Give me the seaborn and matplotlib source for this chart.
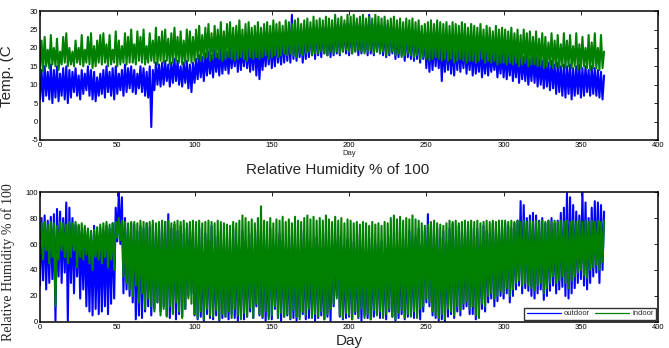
import numpy as np
import pandas as pd
import seaborn as sns
import matplotlib
import matplotlib.pyplot as plt

matplotlib.use('Agg')

# Daily low / high readings, one pair every 2 days (days 0, 2, ..., 364)
temp_out_lo = [
    6, 5.5, 7, 6, 5, 6.5, 5.5, 7, 6, 5,
    6.5, 8, 7, 6, 7.5, 8.5, 7, 6, 5.5, 7,
    7.5, 6.5, 8, 7, 6, 7.5, 8.5, 7, 8, 9,
    8, 7.5, 9, 8, 7, 6.5, -1.5, 8.5, 10, 9.5,
    10, 11, 9.5, 10.5, 11, 10, 9.5, 10.5, 9, 8,
    10.5, 11.5, 12, 11, 12.5, 13, 12, 13.5, 12.5, 13,
    14, 13, 14.5, 15, 13.5, 14, 15, 14.5, 13.5, 14,
    12.5, 11.5, 14, 15, 15.5, 14.5, 15, 16, 15.5, 16,
    16.5, 16, 17, 16.5, 17.5, 16, 17, 17.5, 18, 17,
    18, 17.5, 18.5, 18, 17.5, 18, 18.5, 18, 19, 18.5,
    18, 18.5, 19, 18, 18.5, 19, 18, 18.5, 18, 19,
    18.5, 18, 17.5, 18, 18.5, 17, 17.5, 18, 16.5, 17.5,
    17, 16.5, 17, 16, 17, 14.5, 13.5, 14, 15, 14.5,
    11, 13.5, 14, 13, 12.5, 14, 13.5, 14.5, 13, 14,
    12.5, 13, 13.5, 12, 13, 12.5, 13.5, 14, 12, 13,
    12, 11.5, 12.5, 11, 12, 10.5, 11.5, 11, 10, 11,
    10.5, 9.5, 10, 9, 9.5, 8.5, 9, 7.5, 8, 7,
    6.5, 7.5, 6, 7, 7.5, 6.5, 7, 8, 7, 7.5,
    7, 6.5, 6,
]
temp_out_hi = [
    14, 15, 13.5, 15.5, 14, 15, 13, 14.5, 15, 14,
    13.5, 14.5, 12.5, 14, 13, 15, 14, 13.5, 12, 13,
    14, 15, 13.5, 14.5, 15, 13, 14, 15.5, 14.5, 15,
    14, 13, 15, 14.5, 13.5, 15, 14, 16, 15.5, 16,
    16.5, 15.5, 16, 17, 16.5, 15, 16, 16.5, 15.5, 16,
    17, 18, 17.5, 18.5, 19, 18, 19.5, 18.5, 20, 19,
    19, 20, 19.5, 20.5, 21, 20, 21.5, 20.5, 21, 22,
    21, 20, 21.5, 22, 22.5, 21.5, 23, 22, 23.5, 24,
    24, 29, 24.5, 23.5, 25, 24, 24.5, 25.5, 24.5, 25.5,
    25, 25.5, 26, 25, 25.5, 26.5, 26, 25.5, 26.5, 26,
    26.5, 26, 27, 26.5, 25.5, 26.5, 29, 26.5, 26, 26.5,
    26, 25.5, 26.5, 26, 25.5, 25, 25.5, 25, 25.5, 24.5,
    25, 24.5, 24, 24.5, 23.5, 22.5, 22, 22.5, 21.5, 22,
    21, 22, 21.5, 21, 22, 21.5, 20.5, 21, 20, 21,
    20, 19.5, 20.5, 19, 20, 19.5, 18.5, 19, 18, 19,
    19, 18.5, 19.5, 18, 19, 18.5, 17.5, 18, 17, 18,
    17.5, 17, 16.5, 17, 16, 16.5, 15.5, 16, 15, 15.5,
    15, 15.5, 14.5, 15, 15.5, 14.5, 15, 14, 15, 14.5,
    14, 13.5, 12.5,
]
temp_in_lo = [
    14, 13.5, 15, 14.5, 15.5, 15, 14, 15.5, 16, 15,
    15.5, 15, 16, 15.5, 15, 16, 15.5, 14.5, 15, 16,
    15.5, 16, 15, 15.5, 16, 15, 15.5, 16, 15.5, 16,
    16, 15.5, 16.5, 16, 15.5, 16, 16.5, 16, 15.5, 16.5,
    16, 16.5, 15.5, 16, 16.5, 16, 15.5, 16, 16.5, 16,
    16.5, 17, 16.5, 17, 17.5, 16.5, 17, 17.5, 17, 16.5,
    17, 17.5, 17, 16.5, 17, 17.5, 17, 16.5, 17.5, 17,
    17.5, 17, 17.5, 18, 17, 17.5, 18, 17.5, 18, 18.5,
    18, 18.5, 18, 17.5, 18.5, 18, 18.5, 19, 18, 18.5,
    18.5, 19, 18.5, 18, 19, 18.5, 19, 18.5, 19, 19.5,
    19, 18.5, 19, 19.5, 19, 18.5, 19, 19.5, 18.5, 19,
    18.5, 19, 18, 18.5, 19, 18, 18.5, 17.5, 18, 18.5,
    18, 17.5, 18, 17, 17.5, 17, 16.5, 17, 17.5, 17,
    16.5, 17, 16.5, 17, 16, 16.5, 17, 16.5, 16, 16.5,
    16.5, 16, 16.5, 17, 16, 16.5, 16, 16.5, 15.5, 16,
    16, 15.5, 16, 15.5, 16, 15, 15.5, 16, 15, 15.5,
    15.5, 15, 15.5, 14.5, 15, 15.5, 14.5, 15, 14.5, 15,
    14.5, 15, 14.5, 15, 14, 14.5, 15, 14.5, 14, 14.5,
    14.5, 14, 14.5,
]
temp_in_hi = [
    22, 23, 19.5, 23.5, 20, 22.5, 19, 23, 24, 20,
    19, 22, 20, 23.5, 19.5, 23, 24, 20.5, 22, 23.5,
    24, 21, 23.5, 19.5, 24.5, 22, 20.5, 24, 23, 25,
    21, 24.5, 23, 25, 20.5, 24, 22, 25.5, 23, 24.5,
    25, 22.5, 24, 25.5, 23, 24.5, 22, 25, 24.5, 23,
    25, 26, 23.5, 25.5, 26.5, 24, 26, 25, 27, 24.5,
    26.5, 27, 25.5, 26, 27.5, 25, 26.5, 27, 25.5, 26,
    27, 25.5, 26.5, 27, 26, 27.5, 26.5, 27, 26, 27.5,
    27, 26.5, 27.5, 28, 26.5, 27.5, 28, 27, 28.5, 27.5,
    28, 27.5, 28.5, 28, 27.5, 29, 28, 28.5, 27.5, 29,
    28.5, 29, 28, 28.5, 29, 28, 28.5, 28, 29, 28.5,
    28, 28.5, 27.5, 28, 28.5, 27.5, 28, 27, 28, 27.5,
    28, 27, 27.5, 26, 26.5, 27, 27.5, 26.5, 27.5, 27,
    26.5, 27, 26, 27, 26.5, 26, 27, 26.5, 25.5, 26.5,
    26, 25.5, 26.5, 25, 26, 25.5, 24.5, 26, 25, 25.5,
    25, 24.5, 25.5, 24, 25, 23.5, 25, 24, 24.5, 23,
    24.5, 22.5, 24, 23, 21.5, 24, 22, 23.5, 21, 24,
    22, 23.5, 20.5, 24, 21, 23, 20, 23.5, 21.5, 24,
    20, 23.5, 19,
]

hum_out_lo = [
    28, 32, 25, 30, 33, 1, 35, 30, 38, 1,
    30, 22, 35, 18, 25, 12, 8, 5, 10, 6,
    8, 12, 6, 14, 18, 62, 60, 22, 25, 20,
    15, 2, 5, 3, 8, 12, 5, 10, 15, 8,
    12, 5, 3, 8, 2, 6, 4, 10, 20, 22,
    5, 2, 4, 1, 6, 3, 2, 5, 1, 3,
    4, 2, 6, 3, 1, 5, 2, 4, 8, 3,
    12, 5, 3, 1, 4, 2, 10, 3, 1, 4,
    5, 2, 3, 1, 4, 6, 2, 3, 5, 1,
    3, 5, 2, 4, 1, 12, 20, 4, 2, 3,
    4, 2, 6, 3, 1, 5, 3, 2, 4, 6,
    3, 5, 2, 8, 4, 1, 3, 6, 2, 4,
    5, 3, 6, 2, 8, 15, 12, 5, 3, 1,
    2, 0, 4, 6, 3, 8, 5, 10, 12, 6,
    6, 2, 4, 10, 8, 15, 18, 12, 16, 20,
    18, 22, 15, 20, 25, 28, 22, 26, 24, 20,
    18, 22, 25, 17, 20, 24, 28, 22, 25, 27,
    20, 18, 22, 26, 30, 33, 28, 25, 30, 35,
    38, 30, 40,
]
hum_out_hi = [
    80, 82, 78, 81, 83, 87, 85, 80, 92, 88,
    80, 75, 74, 70, 72, 68, 70, 74, 66, 72,
    70, 74, 72, 76, 88, 100, 96, 80, 74, 76,
    75, 70, 74, 72, 76, 73, 75, 70, 76, 74,
    77, 83, 72, 75, 70, 74, 68, 72, 75, 70,
    60, 72, 55, 68, 62, 74, 50, 66, 70, 58,
    65, 55, 72, 60, 48, 70, 62, 56, 68, 52,
    70, 58, 64, 50, 72, 60, 55, 68, 62, 58,
    52, 66, 60, 48, 70, 55, 62, 50, 58, 65,
    60, 45, 68, 55, 62, 50, 66, 58, 48, 64,
    55, 62, 50, 68, 58, 46, 64, 52, 60, 56,
    62, 50, 58, 66, 48, 60, 55, 64, 52, 70,
    58, 66, 72, 60, 70, 83, 75, 68, 72, 65,
    70, 60, 72, 76, 65, 74, 70, 68, 75, 72,
    66, 72, 60, 74, 70, 68, 76, 72, 70, 74,
    76, 74, 72, 76, 78, 93, 90, 80, 82, 84,
    82, 78, 80, 76, 78, 80, 76, 78, 84, 88,
    100, 96, 90, 85, 82, 100, 92, 80, 88, 93,
    92, 90, 85,
]
hum_in_lo = [
    52, 48, 55, 45, 50, 12, 48, 55, 50, 45,
    50, 55, 42, 50, 48, 52, 45, 40, 50, 48,
    45, 50, 42, 48, 40, 65, 63, 35, 30, 25,
    20, 28, 15, 22, 10, 18, 12, 8, 15, 5,
    10, 4, 12, 6, 15, 8, 3, 10, 18, 14,
    6, 3, 8, 2, 10, 5, 4, 9, 2, 6,
    4, 8, 3, 10, 5, 2, 7, 4, 11, 3,
    14, 6, 4, 8, 2, 5, 12, 3, 7, 4,
    6, 3, 9, 4, 2, 8, 5, 10, 3, 6,
    4, 8, 2, 6, 10, 14, 18, 5, 3, 7,
    5, 2, 8, 4, 10, 3, 6, 2, 9, 5,
    8, 3, 6, 10, 4, 2, 7, 9, 3, 6,
    4, 8, 3, 10, 12, 18, 15, 8, 5, 3,
    6, 2, 10, 8, 5, 12, 9, 14, 16, 10,
    12, 5, 3, 14, 12, 20, 22, 18, 20, 24,
    22, 26, 20, 25, 30, 32, 28, 30, 28, 26,
    24, 28, 30, 22, 26, 30, 35, 30, 32, 35,
    30, 26, 32, 35, 38, 40, 36, 34, 40, 42,
    44, 40, 46,
]
hum_in_hi = [
    76, 77, 75, 77, 76, 74, 77, 76, 75, 77,
    76, 77, 75, 76, 74, 72, 70, 71, 73, 75,
    76, 77, 75, 76, 77, 80, 78, 77, 76, 77,
    77, 76, 78, 77, 76, 77, 78, 76, 77, 78,
    77, 78, 76, 77, 78, 77, 78, 76, 77, 78,
    77, 78, 76, 77, 78, 77, 76, 78, 77, 76,
    75, 74, 77, 76, 78, 82, 80, 77, 79, 76,
    80, 89, 78, 77, 80, 76, 79, 78, 81, 77,
    79, 76, 81, 78, 77, 80, 82, 79, 81, 78,
    80, 78, 82, 79, 77, 81, 78, 80, 76, 79,
    78, 76, 77, 75, 77, 76, 74, 77, 75, 76,
    74, 77, 76, 80, 82, 79, 81, 78, 80, 79,
    82, 79, 78, 76, 74, 75, 77, 78, 76, 75,
    74, 76, 78, 77, 78, 76, 77, 78, 77, 78,
    77, 78, 76, 77, 78, 77, 78, 77, 78, 78,
    78, 77, 78, 77, 78, 77, 78, 77, 78, 77,
    78, 77, 78, 77, 78, 77, 78, 77, 78, 77,
    78, 77, 78, 77, 78, 77, 78, 77, 78, 77,
    78, 77, 78,
]

sources = ['outdoor', 'indoor']
colors = {'outdoor': '#0000ff', 'indoor': '#008000'}


def zigzag(lo, hi, name):
    # low on even days, high on the following odd day
    days = np.arange(0, 2 * len(lo), 2)
    x = np.column_stack([days, days + 1]).ravel()
    y = np.column_stack([lo, hi]).ravel()
    return pd.DataFrame({'Day': x, 'value': y, 'source': name})


temp = pd.concat([zigzag(temp_out_lo, temp_out_hi, 'outdoor'),
                  zigzag(temp_in_lo, temp_in_hi, 'indoor')], ignore_index=True)
hum = pd.concat([zigzag(hum_out_lo, hum_out_hi, 'outdoor'),
                 zigzag(hum_in_lo, hum_in_hi, 'indoor')], ignore_index=True)

sns.set_style('white')
plt.rcParams['font.family'] = ['Liberation Sans', 'DejaVu Sans']
plt.rcParams['axes.unicode_minus'] = False

fig = plt.figure(figsize=(6.69, 3.48), dpi=100)
ax1 = fig.add_axes([0.0598, 0.598, 0.924, 0.370])
ax2 = fig.add_axes([0.0598, 0.075, 0.924, 0.373])

for ax, df in [(ax1, temp), (ax2, hum)]:
    sns.lineplot(data=df, x='Day', y='value', hue='source', hue_order=sources,
                 palette=colors, estimator=None, sort=False, lw=1.5,
                 legend=False, ax=ax)
    ax.set_xlim(0, 400)
    ax.set_xticks(range(0, 401, 50))
    ax.tick_params(direction='in', length=3, width=0.6, labelsize=5.5,
                   top=True, right=True, pad=1.5, colors='black')
    for s in ax.spines.values():
        s.set_color('black')
        s.set_linewidth(1.1)

ax1.set_ylim(-5, 30)
ax1.set_yticks(range(-5, 31, 5))
ax1.set_xlabel('Day', fontsize=5.5, labelpad=1)
ax1.set_ylabel('')
fig.text(7 / 669, 1 - 76 / 348, 'Temp. (C', rotation=90, fontsize=11,
         ha='center', va='center')

ax2.set_ylim(0, 100)
ax2.set_yticks(range(0, 101, 20))
ax2.set_xlabel('Day', fontsize=11, labelpad=2)
ax2.set_ylabel('')
fig.text(338 / 669, 1 - 170 / 348, 'Relative Humidity % of 100', fontsize=11,
         ha='center', va='center')
fig.text(8 / 669, 1 - 262 / 348, 'Relative Humidity % of 100', rotation=90,
         fontsize=10, ha='center', va='center', family='Liberation Serif')

handles = ax2.get_lines()[:2]
leg = ax2.legend(handles, sources, loc='lower right', ncol=2, fontsize=5.5,
                 frameon=True, fancybox=False, borderaxespad=0.3,
                 handlelength=4.5, columnspacing=0.6, handletextpad=0.4,
                 borderpad=0.3)
for h in leg.legend_handles:
    h.set_linewidth(0.9)
leg.get_frame().set_edgecolor('black')
leg.get_frame().set_linewidth(1)

fig.savefig('out.png', dpi=100)
